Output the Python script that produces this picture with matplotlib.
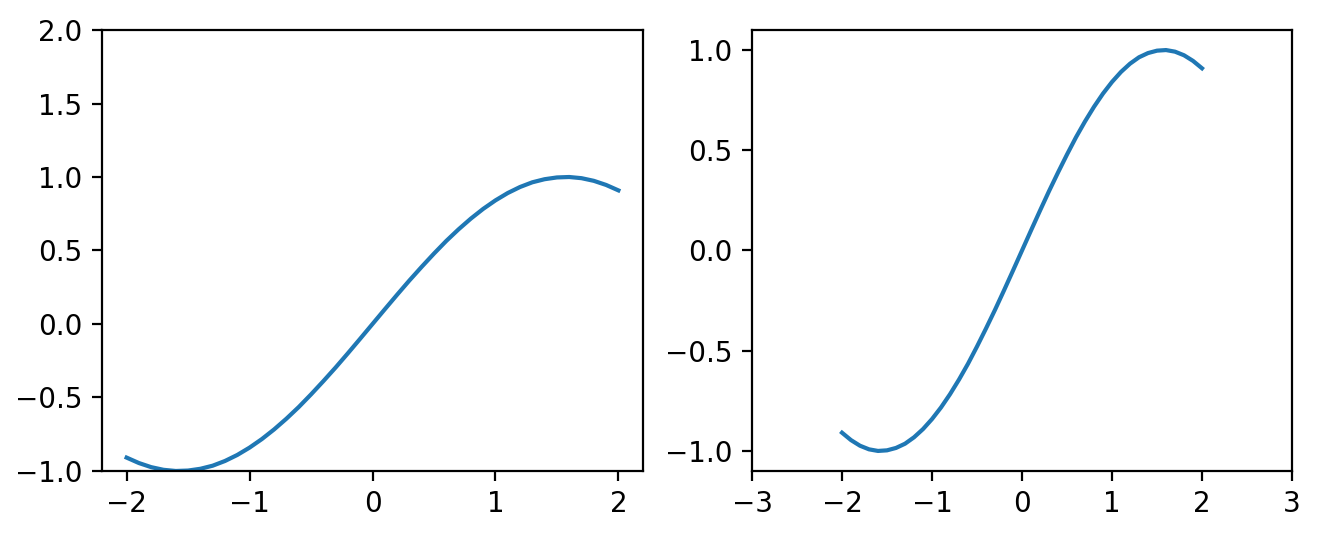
import matplotlib
matplotlib.use('Agg')
import matplotlib.pyplot as plt

# curve values
x_vals = [-2.0, -1.9, -1.8, -1.7, -1.6, -1.5, -1.4, -1.3, -1.2, -1.1, -1.0,
          -0.9, -0.8, -0.7, -0.6, -0.5, -0.4, -0.3, -0.2, -0.1, 0.0,
          0.1, 0.2, 0.3, 0.4, 0.5, 0.6, 0.7, 0.8, 0.9, 1.0,
          1.1, 1.2, 1.3, 1.4, 1.5, 1.6, 1.7, 1.8, 1.9, 2.0]
y_vals = [-0.909, -0.946, -0.974, -0.992, -1.0, -0.997, -0.985, -0.964, -0.932, -0.891, -0.841,
          -0.783, -0.717, -0.644, -0.565, -0.479, -0.389, -0.296, -0.199, -0.1, 0.0,
          0.1, 0.199, 0.296, 0.389, 0.479, 0.565, 0.644, 0.717, 0.783, 0.841,
          0.891, 0.932, 0.964, 0.985, 0.997, 1.0, 0.992, 0.974, 0.946, 0.909]

fig = plt.figure(figsize=(6.6, 2.68), dpi=200)
ax1 = fig.add_axes([0.0773, 0.1213, 0.4098, 0.8227])
ax2 = fig.add_axes([0.5697, 0.1213, 0.4091, 0.8227])

ax1.plot(x_vals, y_vals)
ax1.set_ylim(-1, 2)

ax2.plot(x_vals, y_vals)
ax2.set_xlim(-3, 3)

fig.savefig('out.png', dpi=200)
